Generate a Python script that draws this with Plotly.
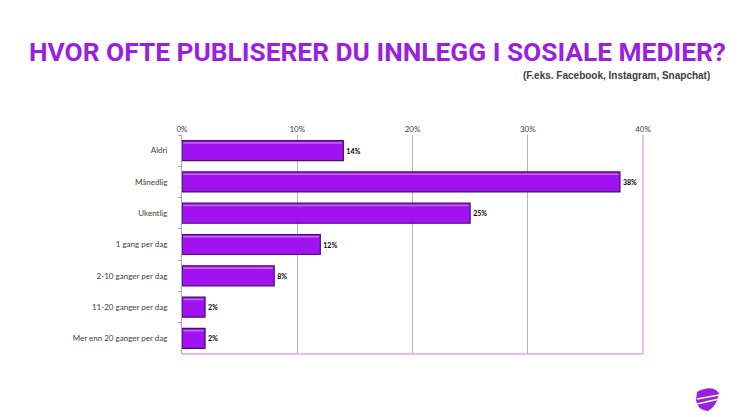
import plotly.graph_objects as go

categories = ["Aldri", "Månedlig", "Ukentlig", "1 gang per dag", "2-10 ganger per dag",
              "11-20 ganger per dag", "Mer enn 20 ganger per dag"]
values = [14, 38, 25, 12, 8, 2, 2]
x_ticks = [0, 10, 20, 30, 40]
x_tick_labels = ["0%", "10%", "20%", "30%", "40%"]

title_text = "HVOR OFTE PUBLISERER DU INNLEGG I SOSIALE MEDIER?"
subtitle_text = "(F.eks. Facebook, Instagram, Snapchat)"

W, H = 746, 417
x0, x1 = 182 / W, 643 / W
y0, y1 = 1 - 354 / H, 1 - 135 / H

fig = go.Figure()
fig.add_trace(go.Bar(
    x=values, y=categories, orientation="h",
    marker=dict(color="#a012f0", line=dict(color="#4a0a70", width=1.2)),
    width=0.64, offset=-0.32,
    text=[f"{v}%" for v in values], textposition="outside",
    textfont=dict(family="Lato", size=7, color="#000000", weight="bold"),
    cliponaxis=False, hoverinfo="skip",
))
# top highlight stripe (3D look)
fig.add_trace(go.Bar(
    x=[v - 0.25 for v in values], base=[0.12] * len(values), y=categories, orientation="h",
    marker=dict(color="#c56af7", line=dict(width=0)),
    width=0.05, offset=-0.27, hoverinfo="skip",
))

fig.update_layout(
    width=W, height=H, margin=dict(l=0, r=0, t=0, b=0),
    paper_bgcolor="white", plot_bgcolor="white", showlegend=False,
    barmode="overlay", hovermode=False,
    xaxis=dict(domain=[x0, x1], range=[0, 40], side="top", automargin=False,
               tickvals=x_ticks, ticktext=x_tick_labels,
               tickfont=dict(family="Lato", size=8, color="#404040"),
               showgrid=True, gridcolor="#b4b4b4", gridwidth=1,
               zeroline=False, showline=False, ticks="", fixedrange=True),
    yaxis=dict(domain=[y0, y1], range=[6.5, -0.5], type="category", automargin=False,
               tickfont=dict(family="Lato", size=8, color="#404040"),
               showline=True, linecolor="#a8a8a8", linewidth=1,
               ticks="outside", ticklen=3, tickcolor="#a8a8a8",
               tickson="boundaries", showgrid=False, ticklabelstandoff=12,
               fixedrange=True),
)

# right and bottom border lines (light purple)
fig.add_shape(type="line", xref="paper", yref="paper", x0=x1, x1=x1, y0=y0, y1=y1,
              line=dict(color="#d9a8f2", width=1.5))
fig.add_shape(type="line", xref="paper", yref="paper", x0=x0, x1=x1, y0=y0, y1=y0,
              line=dict(color="#d9a8f2", width=1.5))

fig.add_annotation(text=title_text, xref="paper", yref="paper", x=377.5 / W, y=1 - 52 / H,
                   showarrow=False, xanchor="center", yanchor="middle",
                   font=dict(family="Roboto", size=26.3, color="#9a1fe0", weight="bold"))
fig.add_annotation(text=subtitle_text, xref="paper", yref="paper", x=712 / W, y=1 - 75 / H,
                   showarrow=False, xanchor="right", yanchor="middle",
                   font=dict(family="Liberation Sans", size=10, color="#404040", weight="bold"))

# logo
fig.add_shape(type="path", xref="paper", yref="paper",
              path=(f"M {697/W},{1-392/H} Q {712/W},{1-384/H} {719/W},{1-393/H} "
                    f"Q {717/W},{1-406/H} {708/W},{1-411/H} Q {697/W},{1-410/H} {696/W},{1-400/H} Z"),
              fillcolor="#9a1fe0", line=dict(width=0))
for ya, yb in [(399, 401), (404, 405)]:
    fig.add_shape(type="line", xref="paper", yref="paper",
                  x0=697 / W, x1=719 / W, y0=1 - ya / H, y1=1 - (yb - 6) / H,
                  line=dict(color="white", width=1.3))

fig.write_html("out.html", config={"displayModeBar": False, "staticPlot": True},
               post_script="document.body.style.margin='0';")
